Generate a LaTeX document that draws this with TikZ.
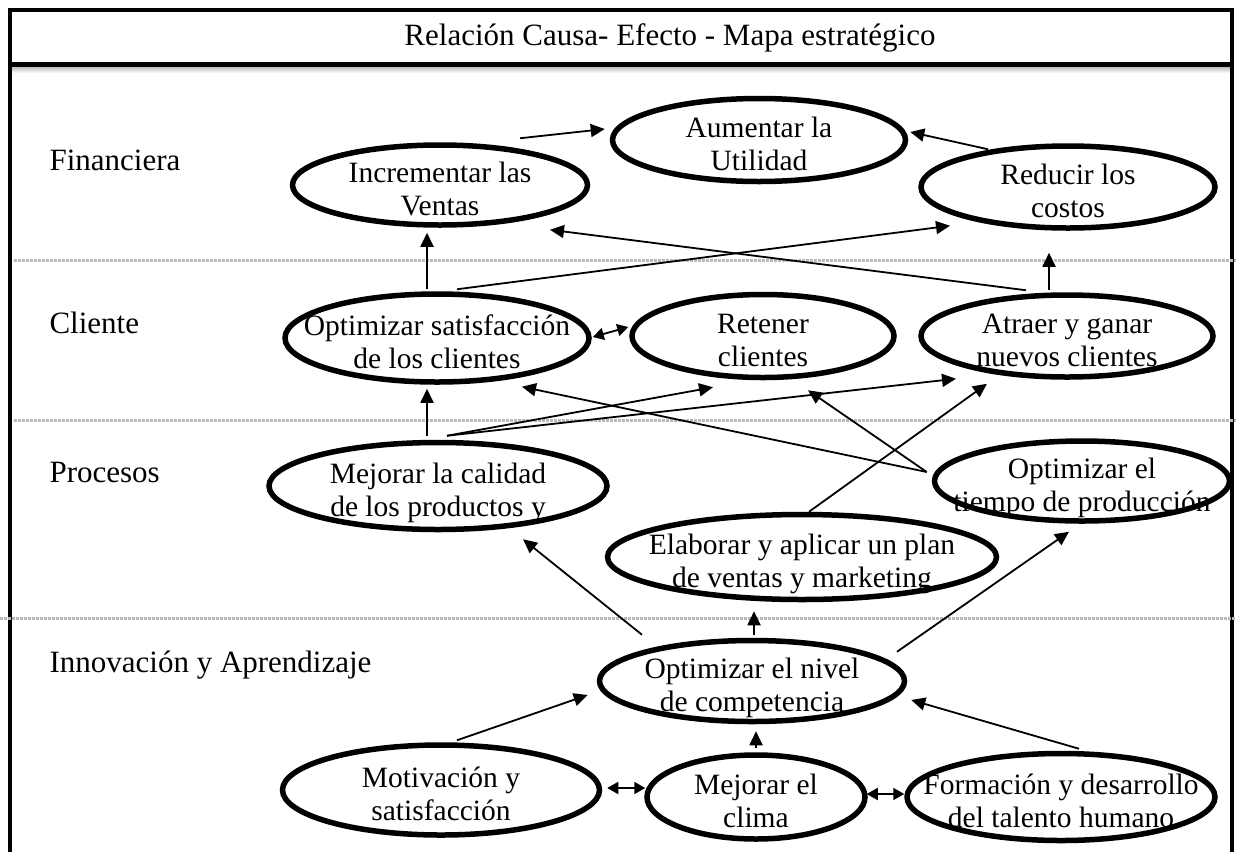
\documentclass[tikz,border=0pt]{standalone}
\usepackage{fontspec}
\setmainfont{Liberation Serif}
\usetikzlibrary{arrows.meta, shapes.geometric, calc}

\newcommand{\dos}[2]{\raisebox{-14pt}[0pt][0pt]{\makebox[0pt]{\begin{tabular}{@{}c@{}}#1\\#2\end{tabular}}}}

\tikzset{
  objetivo/.style={ellipse, draw, line width=5.5pt, inner sep=0pt, font=\fontsize{29.5}{33}\selectfont},
  flecha/.style={line width=1.8pt, -{Triangle[length=14pt,width=13pt]}},
  doble/.style={line width=1.8pt, {Triangle[length=11pt,width=12pt]}-{Triangle[length=11pt,width=12pt]}},
  perspectiva/.style={anchor=west, font=\fontsize{31}{36}\selectfont},
  franja/.style={gray!55, line width=3pt, dash pattern=on 2.5pt off 1.5pt},
}

\begin{document}
\begin{tikzpicture}[x=1pt, y=-1pt]
\useasboundingbox (0,0) rectangle (1236,852);

% marco y titulo
\shade[top color=gray!60, bottom color=white] (12,66) rectangle (1232,73);
\draw[line width=4pt] (10,852) -- (10,10) -- (1232,10) -- (1232,852);
\draw[line width=5pt] (10,64) -- (1232,64);
\node[font=\fontsize{31}{36}\selectfont] (titulo) at (670,38) {Relación Causa- Efecto - Mapa estratégico};

% franjas
\draw[franja] (14,260) -- (1236,260);
\draw[franja] (14,420) -- (1236,420);
\draw[franja] (0,618) -- (1236,618);

% perspectivas
\node[perspectiva] (fin) at (46,160) {Financiera};
\node[perspectiva] (cte) at (46,323) {Cliente};
\node[perspectiva] (pro) at (46,472) {Procesos};
\node[perspectiva] (inn) at (46,665) {Innovación y Aprendizaje};

% objetivos
\node[objetivo, minimum width=293pt, minimum height=83pt] (aum) at (759,140) {\dos{Aumentar la}{Utilidad}};
\node[objetivo, minimum width=295pt, minimum height=80pt] (incr) at (440,185) {\dos{Incrementar las}{Ventas}};
\node[objetivo, minimum width=294pt, minimum height=82pt] (red) at (1068,187) {\dos{Reducir los}{costos}};

\node[objetivo, minimum width=304pt, minimum height=88pt] (sat) at (437,338) {\dos{Optimizar satisfacción}{de los clientes}};
\node[objetivo, minimum width=262pt, minimum height=83pt] (ret) at (763,336) {\dos{Retener}{clientes}};
\node[objetivo, minimum width=292pt, minimum height=82pt] (atr) at (1067,336) {\dos{Atraer y ganar}{nuevos clientes}};

\node[objetivo, minimum width=338pt, minimum height=87pt] (cal) at (438,486) {\dos{Mejorar la calidad}{de los productos y}};
\node[objetivo, minimum width=295pt, minimum height=80pt] (tie) at (1082,481) {\dos{Optimizar el}{tiempo de producción}};
\node[objetivo, minimum width=389pt, minimum height=85pt] (ela) at (802,557) {\dos{Elaborar y aplicar un plan}{de ventas y marketing}};

\node[objetivo, minimum width=305pt, minimum height=81pt] (niv) at (752,681) {\dos{Optimizar el nivel}{de competencia}};
\node[objetivo, minimum width=317pt, minimum height=90pt] (mot) at (441,790) {\dos{Motivación y}{satisfacción}};
\node[objetivo, minimum width=218pt, minimum height=84pt] (cli) at (756,797) {\dos{Mejorar el}{clima}};
\node[objetivo, minimum width=308pt, minimum height=87pt] (form) at (1061,797) {\dos{Formación y desarrollo}{del talento humano}};

% relaciones financiera
\draw ($(incr.north)+(80,-4)$) edge[flecha] ($(aum.west)+(-5,-11)$)
      ($(red.north)+(-80,6)$) edge[flecha] ($(aum.east)+(2,-8)$);

% relaciones cliente
\draw ($(sat.north)+(-10,-2)$) edge[flecha] ($(incr.south)+(-13,5)$)
      ($(sat.north)+(20,-2)$) edge[flecha] ($(red.south)+(-118,-5)$)
      ($(atr.north)+(-41,-2)$) edge[flecha] ($(incr.south)+(110,2)$)
      ($(atr.north)+(-18,-2)$) edge[flecha] ($(red.south)+(-19,22)$)
      ($(sat.east)+(1,-1)$) edge[doble] ($(ret.west)+(-1,-9)$);

% relaciones procesos
\draw ($(cal.north)+(-11,-4)$) edge[flecha] ($(sat.south)+(-10,4)$)
      ($(cal.north)+(9,-4)$) edge[flecha] ($(ret.south)+(-50,7)$)
      ($(cal.north)+(9,-4)$) edge[flecha] ($(atr.south)+(-111,-1)$)
      ($(tie.west)+(-5,-9)$) edge[flecha] ($(sat.south)+(85,2)$)
      ($(tie.west)+(-5,-9)$) edge[flecha] ($(ret.south)+(45,10)$)
      ($(ela.north)+(7,0)$) edge[flecha] ($(atr.south)+(-80,4)$);

% relaciones innovacion
\draw ($(niv.north)+(-110,-3)$) edge[flecha] ($(cal.south)+(85,7)$)
      ($(niv.north)+(2,-3)$) edge[flecha] ($(ela.south)+(-48,9)$)
      ($(niv.north)+(145,14)$) edge[flecha] ($(tie.south)+(-13,8)$)
      ($(mot.north)+(16,-2)$) edge[flecha] ($(niv.west)+(-9,14)$)
      ($(cli.north)+(0,-4)$) edge[flecha] ($(niv.south)+(4,7)$)
      ($(form.north)+(18,-2)$) edge[flecha] ($(niv.east)+(4,19)$)
      ($(mot.east)+(5,-2)$) edge[doble] ($(cli.west)+(1,-9)$)
      ($(cli.east)+(-1,-3)$) edge[doble] ($(form.west)+(0,-3)$);
\end{tikzpicture}
\end{document}
